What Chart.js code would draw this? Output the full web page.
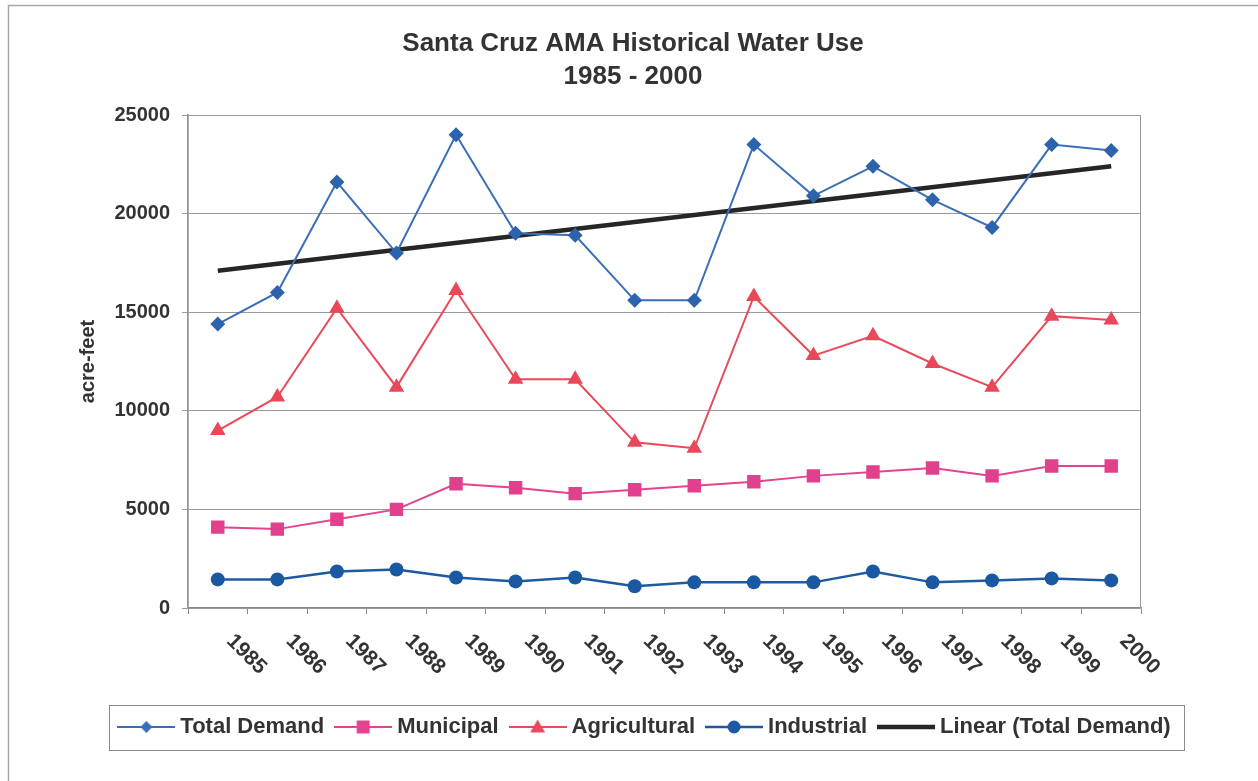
<!DOCTYPE html>
<html>
<head>
<meta charset="utf-8">
<title>Santa Cruz AMA Historical Water Use</title>
<script src="https://cdn.jsdelivr.net/npm/chart.js@4.4.0/dist/chart.umd.min.js"></script>
<style>
  html, body { margin: 0; padding: 0; background: #fff; }
  #wrap { width: 1258px; height: 781px; }
</style>
</head>
<body>
<div id="wrap"><canvas id="chartWater"></canvas></div>
<script>
// data (acre-feet)
const years = ['1985', '1986', '1987', '1988', '1989', '1990', '1991', '1992',
               '1993', '1994', '1995', '1996', '1997', '1998', '1999', '2000'];
const totalDemand  = [14400, 16000, 21600, 18000, 24000, 19000, 18900, 15600,
                      15600, 23500, 20900, 22400, 20700, 19300, 23500, 23200];
const municipal    = [4100, 4000, 4500, 5000, 6300, 6100, 5800, 6000,
                      6200, 6400, 6700, 6900, 7100, 6700, 7200, 7200];
const agricultural = [9000, 10700, 15200, 11200, 16100, 11600, 11600, 8400,
                      8100, 15800, 12800, 13800, 12400, 11200, 14800, 14600];
const industrial   = [1450, 1450, 1850, 1950, 1550, 1350, 1550, 1100,
                      1300, 1300, 1300, 1850, 1300, 1400, 1500, 1400];
// ends of the "Linear (Total Demand)" trend line as drawn
const trendStart = 17100;
const trendEnd = 22400;
const yTicks = [0, 5000, 10000, 15000, 20000, 25000];

const FONT = '"Liberation Sans", Arial, sans-serif';
const TEXT = '#333333';

const trendData = years.map((y, i) => i === 0 ? trendStart : (i === years.length - 1 ? trendEnd : null));

// legend glyph: short line with the marker in the middle
function legendIcon(color, shape, lineW) {
    const c = document.createElement('canvas');
    c.width = 58;
    c.height = 20;
    const g = c.getContext('2d');
    g.strokeStyle = color;
    g.fillStyle = color;
    g.lineWidth = lineW;
    g.beginPath();
    g.moveTo(0, 10);
    g.lineTo(58, 10);
    g.stroke();
    g.beginPath();
    if (shape === 'diamond') {
        g.moveTo(29, 4); g.lineTo(35, 10); g.lineTo(29, 16); g.lineTo(23, 10);
    } else if (shape === 'square') {
        g.rect(22.5, 3.5, 13, 13);
    } else if (shape === 'triangle') {
        g.moveTo(29, 2.5); g.lineTo(36.5, 15.5); g.lineTo(21.5, 15.5);
    } else if (shape === 'circle') {
        g.arc(29, 10, 6.5, 0, Math.PI * 2);
    }
    g.closePath();
    if (shape) g.fill();
    return c;
}

// outer frame, plot border, legend box and slanted year labels
const framePlugin = {
    id: 'framePlugin',
    afterLayout(chart) {
        chart.titleBlock.left -= 22;
        chart.titleBlock.right -= 22;
        chart.legend.left -= 8;
        chart.legend.right -= 8;
    },
    beforeDraw(chart) {
        const ctx = chart.ctx;
        ctx.save();
        ctx.strokeStyle = '#a8a8a8';
        ctx.lineWidth = 1.5;
        ctx.beginPath();
        ctx.moveTo(8.5, 781);
        ctx.lineTo(8.5, 5.5);
        ctx.lineTo(1258, 5.5);
        ctx.stroke();
        ctx.restore();
    },
    afterDraw(chart) {
        const ctx = chart.ctx;
        const a = chart.chartArea;
        ctx.save();
        ctx.strokeStyle = '#9a9a9a';
        ctx.lineWidth = 1;
        ctx.strokeRect(a.left, a.top + 0.5, a.right - a.left - 0.5, a.bottom - a.top);

        const boxes = chart.legend.legendHitBoxes;
        if (boxes && boxes.length) {
            const first = boxes[0];
            const last = boxes[boxes.length - 1];
            const l = first.left - 14;
            const r = last.left + last.width + 14;
            ctx.strokeStyle = '#8a8a8a';
            ctx.strokeRect(Math.round(l) + 0.5, Math.round(first.top - 11.5) + 0.5,
                           Math.round(r - l), 45);
        }

        // year labels slanted downwards to the right
        const x = chart.scales.x;
        ctx.font = 'bold 21px ' + FONT;
        ctx.fillStyle = TEXT;
        ctx.textAlign = 'left';
        ctx.textBaseline = 'middle';
        years.forEach((yr, i) => {
            const px = x.getPixelForValue(i);
            ctx.save();
            ctx.translate(px + 12, x.top + 30);
            ctx.rotate(Math.PI / 4);
            ctx.fillText(yr, 0, 0);
            ctx.restore();
        });
        ctx.restore();
    }
};

const ctx = document.getElementById('chartWater').getContext('2d');
const chart = new Chart(ctx, {
    type: 'line',
    data: {
        labels: years,
        datasets: [{
            label: 'Total Demand',
            data: totalDemand,
            borderColor: '#3a6fb8',
            backgroundColor: '#2d62ad',
            borderWidth: 2,
            pointStyle: 'rectRot',
            pointRadius: 7.5,
            pointBorderWidth: 0,
            legendIcon: legendIcon('#3a6fb8', 'diamond', 2)
        }, {
            label: 'Municipal',
            data: municipal,
            borderColor: '#e2448e',
            backgroundColor: '#e0408c',
            borderWidth: 2,
            pointStyle: 'rect',
            pointRadius: 9.5,
            pointBorderWidth: 0,
            legendIcon: legendIcon('#e2448e', 'square', 2)
        }, {
            label: 'Agricultural',
            data: agricultural,
            borderColor: '#e84a5a',
            backgroundColor: '#e84858',
            borderWidth: 2,
            pointStyle: 'triangle',
            pointRadius: 9,
            pointBorderWidth: 0,
            legendIcon: legendIcon('#e84a5a', 'triangle', 2)
        }, {
            label: 'Industrial',
            data: industrial,
            borderColor: '#1d5aa3',
            backgroundColor: '#1a58a2',
            borderWidth: 2.5,
            pointStyle: 'circle',
            pointRadius: 7,
            pointBorderWidth: 0,
            legendIcon: legendIcon('#1d5aa3', 'circle', 2.5)
        }, {
            label: 'Linear (Total Demand)',
            data: trendData,
            borderColor: '#262626',
            backgroundColor: '#262626',
            borderWidth: 4.5,
            pointRadius: 0,
            spanGaps: true,
            legendIcon: legendIcon('#262626', null, 4.5)
        }]
    },
    options: {
        responsive: true,
        maintainAspectRatio: false,
        animation: false,
        events: [],
        layout: {
            padding: { top: 10, left: 72, right: 20, bottom: 33 }
        },
        plugins: {
            title: {
                display: true,
                text: ['Santa Cruz AMA Historical Water Use', '1985 - 2000'],
                color: TEXT,
                font: { family: FONT, size: 26, weight: 'bold', lineHeight: 1.25 },
                padding: { top: 18, bottom: 22 }
            },
            legend: {
                position: 'bottom',
                labels: {
                    usePointStyle: true,
                    pointStyleWidth: 46,
                    padding: 16,
                    color: TEXT,
                    font: { family: FONT, size: 22, weight: 'bold' },
                    generateLabels(chart) {
                        return chart.data.datasets.map((ds, i) => ({
                            text: ds.label,
                            pointStyle: ds.legendIcon,
                            fillStyle: ds.borderColor,
                            strokeStyle: ds.borderColor,
                            fontColor: TEXT,
                            lineWidth: 0,
                            hidden: false,
                            datasetIndex: i
                        }));
                    }
                }
            },
            tooltip: { enabled: false }
        },
        scales: {
            x: {
                offset: true,
                afterFit(scale) { scale.height = 92; },
                ticks: { display: false },
                grid: {
                    offset: true,
                    drawOnChartArea: false,
                    drawTicks: true,
                    tickLength: 6,
                    color: '#888'
                },
                border: { color: '#888', width: 1.5 }
            },
            y: {
                min: 0,
                max: 25000,
                afterFit(scale) { scale.width = 116; },
                afterBuildTicks(scale) { scale.ticks = yTicks.map(v => ({ value: v })); },
                ticks: {
                    color: TEXT,
                    padding: 12,
                    font: { family: FONT, size: 20, weight: 'bold' },
                    callback: v => String(v)
                },
                grid: {
                    color: '#9a9a9a',
                    tickLength: 6
                },
                border: { color: '#888', width: 1.5 },
                title: {
                    display: true,
                    text: 'acre-feet',
                    color: TEXT,
                    font: { family: FONT, size: 20, weight: 'bold' },
                    padding: { top: 4, bottom: 0 }
                }
            },
            // empty space to the right of the plot
            yRight: {
                position: 'right',
                min: 0,
                max: 25000,
                afterFit(scale) { scale.width = 97; },
                ticks: { display: false },
                grid: { display: false },
                border: { display: false }
            }
        }
    },
    plugins: [framePlugin]
});
</script>
</body>
</html>
